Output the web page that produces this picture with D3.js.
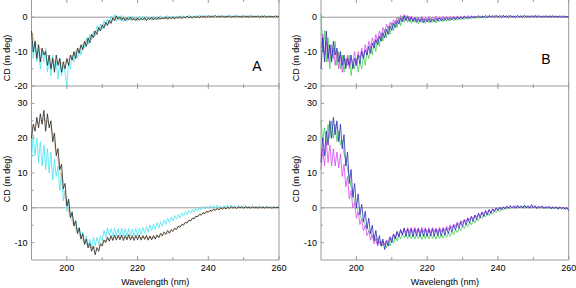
<!DOCTYPE html>
<html lang="en">
<head>
  <meta charset="UTF-8">
  <title>CD spectra</title>
  <script src='https://d3js.org/d3.v7.min.js'></script>
  <style>
    body { margin: 0; }
  </style>
</head>
<body>
</body>
<script>
  // wavelength grid (nm), 0.5 nm step from 190 to 260
  const wavelengths = d3.range(0, 141).map(i => 190 + i * 0.5);

  // panel A, top
  const topA_cyan = [
    -5,-12,-7,-13,-9,-15,-10,-13,-9,-16,
    -12,-17,-11,-15,-13,-18,-12,-17,-14,-16,
    -20,-13,-15,-11,-13,-10,-12,-9,-11,-8,
    -9,-6,-8,-5,-6.5,-4,-5.5,-2.5,-4,-2,
    -3.5,-1,-2.5,-0.5,-2,0.3,-1,0.8,-1.2,0.3,
    -1,0.5,-1.3,0,-1.2,0.2,-1,0.4,-0.9,0,
    -1.1,0.3,-0.8,0.2,-1,0.4,-0.6,0,-0.9,0.3,
    -0.6,0.2,-0.8,0.4,-0.5,0.1,-0.6,0.5,-0.3,0.2,
    -0.5,0.4,-0.2,0.3,-0.4,0.5,-0.1,0.3,-0.3,0.6,
    0,0.4,-0.2,0.5,0.1,0.7,-0.1,0.4,0.2,0.6,
    0,0.5,0.1,0.6,-0.1,0.4,0.2,0.5,0,0.4,
    0.1,0.6,0,0.4,0.2,0.5,0,0.4,0.1,0.5,
    0,0.4,0.2,0.5,0,0.4,0.1,0.3,0,0.4,
    0.1,0.5,0,0.3,0.1,0.4,0,0.3,0.1,0.4,
    0.2];
  const topA_orange = [
    -4,-6,-7,-8,-8.5,-9,-9.8,-10,-10.8,-11,
    -11.8,-12,-12.3,-12.8,-12.8,-13.2,-13.2,-13.5,-13,-13.2,
    -12.5,-12.3,-11.5,-11.2,-10.5,-10.2,-9.5,-9,-8.5,-8,
    -7.5,-7,-6.5,-6,-5.5,-5,-4.5,-4,-3.5,-3.1,
    -2.7,-2.3,-2,-1.6,-1.3,-1,-0.7,-0.5,-0.3,-0.3,
    -0.2,-0.3,-0.2,-0.4,-0.3,-0.5,-0.4,-0.5,-0.5,-0.6,
    -0.5,-0.6,-0.5,-0.6,-0.5,-0.6,-0.5,-0.5,-0.5,-0.5,
    -0.5,-0.4,-0.5,-0.4,-0.4,-0.3,-0.4,-0.3,-0.3,-0.3,
    -0.3,-0.2,-0.3,-0.2,-0.2,-0.2,-0.2,-0.1,-0.1,-0.1,
    -0.1,-0.1,0,-0.1,0,0,0,0,0,0.1,
    0,0.1,0,0.1,0,0.1,0,0.1,0,0.1,
    0,0.1,0,0.1,0,0.1,0,0.1,0,0.1,
    0,0.1,0,0.1,0,0.1,0,0.1,0,0.1,
    0,0.1,0,0.1,0,0.1,0,0.1,0,0.1,
    0];
  const topA_black = [
    -4,-10,-7,-12,-8,-13,-9,-11,-10,-14,
    -11,-15,-12,-16,-11,-14,-12,-16,-13,-15,
    -12,-14,-11,-12.5,-10,-12,-9,-10.5,-8,-9.5,
    -7,-8.5,-6,-7.5,-5,-6,-4,-5,-3,-4,
    -2.2,-3.2,-1.5,-2.4,-0.9,-1.8,-0.2,-1,0.4,-0.6,
    0.1,-0.9,-0.1,-1,-0.2,-0.8,0,-0.9,-0.3,-1,
    -0.2,-0.9,-0.3,-0.8,-0.1,-1,-0.2,-0.7,0,-0.8,
    -0.2,-0.7,0,-0.6,-0.2,-0.5,0.1,-0.6,0,-0.4,
    0.1,-0.5,0,-0.3,0.2,-0.4,0.1,-0.2,0.3,-0.2,
    0.2,-0.3,0.3,-0.1,0.2,-0.2,0.4,0,0.3,-0.1,
    0.4,0,0.3,0.1,0.5,0,0.3,0.1,0.4,0,
    0.3,0.1,0.4,0,0.3,0.1,0.4,0.1,0.3,0,
    0.4,0.1,0.3,0,0.4,0.1,0.3,0.1,0.4,0,
    0.3,0.1,0.4,0,0.3,0.1,0.3,0,0.4,0.1,
    0.3];

  // panel A, bottom
  const botA_cyan = [
    14,21,15,20,13,19,12,18,11,17,
    10,16,8,14,9,12,5,10,2,5,
    -1,2,-3,-1,-5,-3.5,-7.5,-5.5,-8.5,-7,
    -10.5,-8,-11,-9,-11.5,-8.5,-11,-8.5,-10.5,-8,
    -9.5,-6.5,-8.5,-5.8,-8,-6,-8.2,-5.8,-8,-6,
    -8.2,-5.8,-8,-6,-8.2,-5.9,-8.1,-6.1,-8,-6,
    -8,-5.8,-7.6,-5.7,-7.4,-5.4,-7,-5,-6.6,-4.7,
    -6.2,-4.3,-5.8,-4,-5.3,-3.5,-4.8,-3,-4.3,-2.6,
    -3.8,-2.2,-3.3,-1.9,-2.9,-1.5,-2.4,-1.1,-2,-0.8,
    -1.6,-0.5,-1.2,-0.2,-0.9,0.1,-0.6,0.3,-0.3,0.5,
    -0.2,0.6,0,0.7,-0.1,0.8,0.1,0.6,0,0.7,
    0.1,0.6,0,0.7,0.1,0.5,-0.1,0.6,0.1,0.5,
    0,0.5,0.1,0.4,-0.1,0.5,0,0.4,0.1,0.4,
    -0.1,0.4,0,0.4,0.1,0.3,-0.1,0.4,0,0.3,
    0.1];
  const botA_orange = [
    22.5,23.5,24,24.5,24.5,25,25,25.3,25,25,
    24,23,21,18.5,16,13.5,11,8.2,5.5,3.2,
    1,-1,-2.5,-3.9,-5,-6.1,-7,-7.9,-8.6,-9.4,
    -10,-10.5,-11,-11.3,-11.5,-11.6,-11.5,-11.4,-11,-10.6,
    -10.1,-9.8,-9.4,-9.2,-9,-8.9,-8.7,-8.7,-8.5,-8.6,
    -8.5,-8.6,-8.5,-8.6,-8.5,-8.6,-8.5,-8.6,-8.5,-8.6,
    -8.5,-8.6,-8.5,-8.6,-8.5,-8.6,-8.5,-8.6,-8.5,-8.5,
    -8.5,-8.4,-8.3,-8.1,-8,-7.8,-7.5,-7.3,-7,-6.7,
    -6.4,-6.1,-5.8,-5.5,-5.2,-4.9,-4.6,-4.3,-4,-3.7,
    -3.4,-3.1,-2.8,-2.6,-2.3,-2,-1.8,-1.6,-1.4,-1.2,
    -1,-0.9,-0.7,-0.6,-0.5,-0.4,-0.3,-0.3,-0.2,-0.2,
    -0.1,-0.1,0,0,0,0,0,0,0,0,
    0,0,0,0,0,0,0,0,0,0,
    0,0,0,0,0,0,0,0,0,0,
    0];
  const botA_black = [
    20,24,22,26,23,27,24,28,22,27,
    23,25,19,21.5,15,17,11,12.5,5.5,7,
    0.5,2.5,-2.8,-1.3,-5.2,-3.8,-7.3,-5.8,-9,-7.5,
    -10.5,-9,-11.5,-10.2,-12.5,-11,-13.5,-11.5,-12.5,-10.3,
    -11,-9.2,-10,-8.4,-9.6,-8,-9.4,-7.8,-9.3,-7.9,
    -9.2,-7.8,-9.4,-8,-9.2,-7.7,-9.3,-8,-9.4,-7.9,
    -9.2,-7.8,-9.3,-8,-9.1,-7.9,-9.3,-8.1,-9.2,-8,
    -9,-7.8,-8.6,-7.3,-8,-6.9,-7.6,-6.5,-7.3,-6.3,
    -6.8,-5.9,-6.2,-5.3,-5.6,-4.8,-5,-4.2,-4.4,-3.6,
    -3.8,-3,-3.2,-2.4,-2.6,-1.9,-2.1,-1.4,-1.7,-1,
    -1.3,-0.7,-1,-0.4,-0.7,-0.2,-0.6,0,-0.4,0.1,
    -0.3,0.2,-0.2,0.3,-0.1,0.2,-0.2,0.3,0,0.3,
    -0.1,0.3,0,0.2,-0.1,0.3,0,0.2,-0.1,0.3,
    0,0.2,-0.1,0.3,0,0.2,-0.1,0.2,0,0.2,
    0];

  // panel B, top
  const topB_green = [
    1,-10,-4,-13,-6,-15,-8,-12,-7,-14,
    -10,-15,-11,-16,-12,-14,-11,-17,-13,-15,
    -12,-16,-13,-15,-11,-14,-10,-12,-8.5,-11,
    -7,-10,-6,-8.5,-4.5,-7,-3.5,-6,-2.5,-5,
    -1.5,-4,-1,-3,0,-2.5,0.3,-1.5,0.5,-1.5,
    0.2,-1.8,-0.3,-1.5,-0.1,-2,-0.5,-1.6,-0.4,-1.8,
    -0.4,-1.6,-0.3,-1.5,-0.6,-1.7,-0.2,-1.3,-0.4,-1.4,
    -0.1,-1.2,-0.3,-1.1,0,-1,-0.2,-0.9,0.1,-0.8,
    -0.1,-0.7,0.2,-0.6,0,-0.5,0.3,-0.4,0,-0.3,
    0.3,-0.2,0.1,-0.3,0.4,0,0.2,-0.1,0.5,0.1,
    0.3,-0.1,0.5,0.1,0.3,0,0.5,0.1,0.3,0,
    0.4,0,0.3,0.1,0.5,0,0.3,0.1,0.4,0,
    0.3,0.1,0.4,0,0.3,0.1,0.4,0,0.3,0.1,
    0.4,0,0.3,0.1,0.3,0,0.4,0.1,0.3,0,
    0.2];
  const topB_magenta = [
    -9,-5,-11,-7,-13,-8,-12,-9,-14,-10,
    -15,-11,-16,-12,-14,-11,-15,-12,-13,-10,
    -14,-10,-12,-9,-11.5,-8,-10,-7,-9,-6,
    -8,-5,-7,-4,-6,-3,-4.5,-2,-3.5,-1.5,
    -2.5,-0.8,-2,0,-1.2,0.5,-0.8,0.8,-0.5,0.5,
    -0.8,0.3,-1,0.1,-1.1,0,-0.9,0.2,-1,0,
    -0.8,0.2,-0.9,0.1,-0.7,0.3,-0.8,0.1,-0.6,0.3,
    -0.6,0.2,-0.5,0.3,-0.4,0.4,-0.5,0.3,-0.3,0.4,
    -0.3,0.4,-0.2,0.5,-0.1,0.4,-0.2,0.3,0,0.5,
    -0.1,0.4,0,0.5,-0.1,0.3,0.1,0.5,0,0.4,
    0.1,0.5,0,0.4,0.1,0.3,0,0.4,0.1,0.3,
    0,0.4,0.1,0.3,0,0.4,0.1,0.3,0,0.4,
    0.1,0.3,0,0.4,0.1,0.3,0,0.3,0.1,0.4,
    0,0.3,0.1,0.3,0,0.4,0,0.3,0.1,0.2,
    0.1];
  const topB_blue = [
    -15,-6,-13,-4,-12,-8,-13,-7,-11,-9,
    -13,-10,-14,-11,-15,-12,-14,-11,-15,-12,
    -14,-11,-13.5,-10,-12,-9.5,-11,-8.5,-10.5,-7.5,
    -9,-6.5,-8,-5.5,-7,-4.5,-6,-3.5,-5,-2.5,
    -3.8,-1.8,-3,-1,-2,-0.3,-1.3,0.3,-1,0.2,
    -1.2,0,-1.3,-0.2,-1.5,-0.4,-1.4,-0.3,-1.6,-0.5,
    -1.4,-0.4,-1.5,-0.5,-1.3,-0.3,-1.2,-0.2,-1.1,-0.3,
    -1,-0.1,-0.9,-0.2,-0.8,0,-0.7,0.1,-0.6,0,
    -0.5,0.2,-0.4,0.1,-0.3,0.3,-0.2,0.2,-0.1,0.4,
    -0.2,0.3,0,0.4,-0.1,0.5,0.1,0.4,0,0.5,
    0.1,0.4,-0.1,0.5,0.1,0.4,0,0.5,0.1,0.3,
    0,0.5,0.1,0.4,0,0.5,0.1,0.4,0,0.4,
    0.1,0.5,0,0.4,0.1,0.3,0,0.4,0.1,0.3,
    0,0.4,0.1,0.3,0,0.3,-0.1,0.3,0,0.2,
    0];

  // panel B, bottom
  const botB_green = [
    25,19,23,18,24,20,25,20,24,19,
    22,18,19.5,15.5,14,11,9,6,4.5,1.5,
    1,-1.5,-1.8,-3.5,-3.5,-5,-5.2,-7,-6.8,-8.2,
    -7.8,-9.3,-8.8,-10.2,-9.5,-11,-10.2,-11.5,-9.6,-11,
    -9,-10.2,-8.2,-9.5,-7.6,-9,-7.4,-8.6,-7.6,-8.8,
    -7.5,-8.9,-7.6,-9,-7.5,-8.8,-7.6,-9.1,-7.5,-8.9,
    -7.6,-9,-7.5,-8.8,-7.7,-9,-7.5,-8.8,-7.6,-8.7,
    -7.4,-8.5,-7.1,-8.2,-6.8,-7.7,-6.3,-7.1,-5.8,-6.6,
    -5.2,-6,-4.6,-5.4,-4.1,-4.9,-3.5,-4.3,-3.1,-3.7,
    -2.5,-3.1,-2,-2.6,-1.6,-2.2,-1.2,-1.8,-0.8,-1.4,
    -0.5,-1.1,-0.3,-0.7,0,-0.5,0.2,-0.4,0.2,-0.2,
    0.3,-0.1,0.3,0,0.4,-0.1,0.3,0,0.3,-0.1,
    0.3,0,0.2,-0.1,0.3,0,0.2,-0.2,0.2,-0.1,
    0.2,-0.2,0.1,-0.1,0.2,-0.2,0.1,-0.3,0,-0.2,
    -0.3];
  const botB_magenta = [
    11,17,12,19,13,18,12,17,12,16,
    11.5,15.5,9,12.5,6,9,2.5,5,0,1.5,
    -3,-1.2,-4.8,-3.2,-6.6,-5,-8,-6.6,-9.3,-7.8,
    -10.4,-9,-11,-9.6,-11,-9.6,-10.5,-9.2,-9.8,-8.3,
    -9,-7.6,-8.4,-6.9,-8,-6.5,-7.5,-6.1,-7.2,-5.7,
    -7.1,-5.7,-7.2,-5.6,-7.1,-5.8,-7.2,-5.6,-7,-5.7,
    -7.1,-5.7,-7.2,-5.7,-7,-5.8,-7.1,-5.6,-6.9,-5.6,
    -6.6,-5.3,-6.2,-4.9,-5.8,-4.6,-5.4,-4.1,-4.9,-3.7,
    -4.4,-3.3,-3.9,-2.9,-3.5,-2.5,-3,-2.1,-2.6,-1.7,
    -2.2,-1.3,-1.8,-1,-1.4,-0.7,-1.1,-0.4,-0.8,-0.1,
    -0.6,0,-0.4,0.2,-0.2,0.3,-0.1,0.4,0,0.3,
    -0.1,0.4,0,0.3,-0.1,0.4,0,0.3,-0.1,0.3,
    0,0.3,-0.1,0.2,0,0.3,-0.1,0.2,0,0.2,
    -0.1,0.2,-0.1,0.1,-0.2,0.2,-0.1,0.1,-0.2,0.1,
    -0.3];
  const botB_blue = [
    13,20,15,22,18,25,20,26,21,25,
    19,24,17,21,12,16,7,11,3,7,
    0,4,-2,1,-4,-1,-6,-3,-7.5,-5,
    -9.5,-6.5,-10.5,-8,-11,-9,-12,-9.5,-11,-8.5,
    -10,-7.5,-9,-6.8,-8.4,-6.2,-7.8,-5.8,-8.2,-6.1,
    -8.2,-6,-8.3,-6.1,-8.1,-6,-8.3,-6.2,-8.2,-6.1,
    -8.2,-6.2,-8.1,-6,-8.2,-6.1,-8,-6.1,-8.1,-6,
    -7.8,-5.8,-7.4,-5.4,-6.9,-5,-6.4,-4.5,-5.9,-4,
    -5.4,-3.5,-4.9,-3,-4.4,-2.5,-3.9,-2.1,-3.4,-1.6,
    -2.9,-1.2,-2.5,-0.8,-2.1,-0.5,-1.6,-0.3,-1.1,0,
    -0.8,0.2,-0.5,0.3,-0.3,0.5,-0.1,0.6,0,0.6,
    -0.1,0.7,0,0.6,-0.1,0.8,0,0.6,-0.1,0.9,
    0,0.6,-0.2,0.5,0,0.5,-0.2,0.4,-0.1,0.4,
    -0.3,0.3,-0.2,0.3,-0.4,0.2,-0.3,0.1,-0.5,0,
    -0.8];

  const xTicks = [200, 220, 240, 260];
  const xMinorTicks = [210, 230, 250];
  const topYTicks = [0, -10, -20];
  const topYMinor = [-5, -15];
  const botYTicks = [30, 20, 10, 0, -10];
  const botYMinor = [25, 15, 5, -5];

  const colors = {
    cyan: "#45e4f2", orange: "#efb47a", black: "#222222",
    green: "#40d050", magenta: "#d84aec", blue: "#2a2ab8"
  };

  const W = 576, H = 288;
  const svg = d3.select("body")
    .append("svg")
    .attr("width", W)
    .attr("height", H)
    .style("display", "block")
    .style("font-family", "'Liberation Sans', Arial, sans-serif");

  svg.append("rect").attr("width", W).attr("height", H).attr("fill", "white");

  const frameColor = "#9a9a9a";

  function drawColumn(x0, x1, topSeries, botSeries, letter, letterPos) {
    const x = d3.scaleLinear().domain([190, 260]).range([x0, x1]);
    const yTop = d3.scaleLinear().domain([-20, 5]).range([86, 0]);
    const yBot = d3.scaleLinear().domain([-15, 35]).range([260, 86]);

    const g = svg.append("g");

    // frames
    g.append("line").attr("x1", x0).attr("x2", x0).attr("y1", 0).attr("y2", 260)
      .attr("stroke", frameColor);
    g.append("line").attr("x1", x1).attr("x2", x1).attr("y1", 0).attr("y2", 260)
      .attr("stroke", frameColor);
    g.append("line").attr("x1", x0).attr("x2", x1).attr("y1", 86).attr("y2", 86)
      .attr("stroke", frameColor);
    g.append("line").attr("x1", x0).attr("x2", x1).attr("y1", 260).attr("y2", 260)
      .attr("stroke", frameColor);

    // zero lines
    g.append("line").attr("x1", x0).attr("x2", x1)
      .attr("y1", yTop(0)).attr("y2", yTop(0)).attr("stroke", frameColor);
    g.append("line").attr("x1", x0).attr("x2", x1)
      .attr("y1", yBot(0)).attr("y2", yBot(0)).attr("stroke", frameColor);

    // x ticks
    xTicks.concat(xMinorTicks).forEach(t => {
      const major = xTicks.includes(t);
      const len = major ? 3 : 2;
      g.append("line").attr("x1", x(t)).attr("x2", x(t))
        .attr("y1", 86 - len).attr("y2", 86 + len).attr("stroke", frameColor);
      g.append("line").attr("x1", x(t)).attr("x2", x(t))
        .attr("y1", 260 - len - 1).attr("y2", 260).attr("stroke", frameColor);
      g.append("line").attr("x1", x(t)).attr("x2", x(t))
        .attr("y1", 0).attr("y2", len).attr("stroke", frameColor);
    });

    g.selectAll(".xlab")
      .data(xTicks)
      .enter()
      .append("text")
      .attr("x", d => x(d))
      .attr("y", 271)
      .attr("text-anchor", "middle")
      .attr("font-size", 9)
      .text(d => d);

    // y ticks
    [[yTop, topYTicks, topYMinor], [yBot, botYTicks, botYMinor]].forEach(([y, ticks, minor]) => {
      ticks.forEach(t => {
        g.append("line").attr("x1", x0).attr("x2", x0 + 3)
          .attr("y1", y(t)).attr("y2", y(t)).attr("stroke", frameColor);
        g.append("text")
          .attr("x", x0 - 4)
          .attr("y", y(t) + 3)
          .attr("text-anchor", "end")
          .attr("font-size", 9)
          .text(t);
      });
      minor.forEach(t => {
        g.append("line").attr("x1", x0).attr("x2", x0 + 2)
          .attr("y1", y(t)).attr("y2", y(t)).attr("stroke", frameColor);
      });
    });

    // axis titles
    g.append("text")
      .attr("transform", `translate(${x0 - 22},58) rotate(-90)`)
      .attr("text-anchor", "middle")
      .attr("font-size", 9)
      .text("CD (m deg)");
    g.append("text")
      .attr("transform", `translate(${x0 - 22},179) rotate(-90)`)
      .attr("text-anchor", "middle")
      .attr("font-size", 9)
      .text("CD (m deg)");
    g.append("text")
      .attr("x", (x0 + x1) / 2)
      .attr("y", 285)
      .attr("text-anchor", "middle")
      .attr("font-size", 9)
      .text("Wavelength (nm)");

    g.append("text")
      .attr("x", letterPos[0])
      .attr("y", letterPos[1])
      .attr("text-anchor", "middle")
      .attr("font-size", 14)
      .text(letter);

    // spectra
    const lineTop = d3.line().x((d, i) => x(wavelengths[i])).y(d => yTop(d));
    const lineBot = d3.line().x((d, i) => x(wavelengths[i])).y(d => yBot(d));

    topSeries.forEach(s => {
      g.append("path").datum(s.values)
        .attr("fill", "none").attr("stroke", s.color).attr("stroke-width", 0.8)
        .attr("d", lineTop);
    });
    botSeries.forEach(s => {
      g.append("path").datum(s.values)
        .attr("fill", "none").attr("stroke", s.color).attr("stroke-width", 0.8)
        .attr("d", lineBot);
    });
  }

  drawColumn(31.5, 279,
    [{values: topA_cyan, color: colors.cyan}, {values: topA_orange, color: colors.orange}, {values: topA_black, color: colors.black}],
    [{values: botA_cyan, color: colors.cyan}, {values: botA_orange, color: colors.orange}, {values: botA_black, color: colors.black}],
    "A", [257, 71]);

  drawColumn(321, 568.7,
    [{values: topB_green, color: colors.green}, {values: topB_magenta, color: colors.magenta}, {values: topB_blue, color: colors.blue}],
    [{values: botB_green, color: colors.green}, {values: botB_magenta, color: colors.magenta}, {values: botB_blue, color: colors.blue}],
    "B", [546, 64]);
</script>
</html>
